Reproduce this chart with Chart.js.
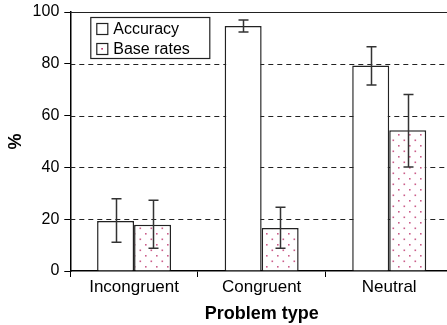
<!DOCTYPE html>
<html>
<head>
<meta charset="utf-8">
<script src="https://cdn.jsdelivr.net/npm/chart.js@4.4.0/dist/chart.umd.min.js"></script>
<style>
html, body { margin: 0; padding: 0; background: #fff; overflow: hidden; }
#wrap { position: relative; width: 454px; height: 325px; }
</style>
</head>
<body>
<div id="wrap"><canvas id="myChart"></canvas></div>
<script>
// data
var categories = ["Incongruent", "Congruent", "Neutral"];
var seriesNames = ["Accuracy", "Base rates"];
var accuracy = [19.3, 94.6, 79.3];
var baseRates = [17.9, 16.6, 54.3];
var accuracyHigh = [27.9, 96.9, 86.6];
var accuracyLow = [11.1, 92.3, 71.8];
var baseHigh = [27.3, 24.6, 68.1];
var baseLow = [8.8, 8.8, 40.2];
var yTicks = [0, 20, 40, 60, 80, 100];

Chart.defaults.font.family = '"Liberation Sans", Arial, sans-serif';
Chart.defaults.color = '#000';

// dotted fill for the base rates bars
function makeDots() {
	var c = document.createElement('canvas');
	c.width = 11; c.height = 11;
	var g = c.getContext('2d');
	g.fillStyle = '#fff';
	g.fillRect(0, 0, 11, 11);
	g.fillStyle = 'rgba(185,40,100,0.75)';
	g.fillRect(2, 2, 1.6, 1.6);
	g.fillRect(7.5, 7.5, 1.6, 1.6);
	return g.createPattern(c, 'repeat');
}
var dots = makeDots();

// dashed grid lines, solid top line
var gridLines = {
	id: 'gridLines',
	beforeDatasetsDraw: function(chart) {
		var ctx = chart.ctx, a = chart.chartArea, y = chart.scales.y;
		ctx.save();
		ctx.strokeStyle = '#222';
		ctx.lineWidth = 1.1;
		yTicks.forEach(function(v) {
			if (v == 0) return;
			var py = Math.round(y.getPixelForValue(v)) + 0.5;
			ctx.setLineDash(v == 100 ? [] : [5, 4]);
			ctx.beginPath();
			ctx.moveTo(a.left, py);
			ctx.lineTo(a.right, py);
			ctx.stroke();
		});
		ctx.restore();
	}
};

// error bars
var errorBars = {
	id: 'errorBars',
	afterDatasetsDraw: function(chart) {
		var ctx = chart.ctx, y = chart.scales.y;
		var hi = [accuracyHigh, baseHigh], lo = [accuracyLow, baseLow];
		ctx.save();
		ctx.strokeStyle = '#333';
		ctx.lineWidth = 1.5;
		for (var d = 0; d < 2; d++) {
			chart.getDatasetMeta(d).data.forEach(function(bar, i) {
				var x = Math.round(bar.x) + 0.5;
				var t = y.getPixelForValue(hi[d][i]);
				var b = y.getPixelForValue(lo[d][i]);
				ctx.beginPath();
				ctx.moveTo(x, t); ctx.lineTo(x, b);
				ctx.moveTo(x - 5, t); ctx.lineTo(x + 5, t);
				ctx.moveTo(x - 5, b); ctx.lineTo(x + 5, b);
				ctx.stroke();
			});
		}
		ctx.restore();
	}
};

// legend box inside the plot
var boxLegend = {
	id: 'boxLegend',
	afterDraw: function(chart) {
		var ctx = chart.ctx, a = chart.chartArea;
		var x = a.left + 20, top = a.top + 5;
		ctx.save();
		ctx.fillStyle = '#fff';
		ctx.fillRect(x, top, 119, 41);
		ctx.strokeStyle = '#222';
		ctx.lineWidth = 1.2;
		ctx.strokeRect(x + 0.5, top + 0.5, 119, 41);
		for (var i = 0; i < 2; i++) {
			var sy = top + 6 + i * 20;
			ctx.fillStyle = '#fff';
			ctx.fillRect(x + 6, sy, 12, 12);
			ctx.strokeRect(x + 6.5, sy + 0.5, 11, 11);
			if (i == 1) {
				ctx.fillStyle = 'rgb(185,40,100)';
				ctx.fillRect(x + 11, sy + 5, 1.6, 1.6);
			}
			ctx.fillStyle = '#000';
			ctx.font = '16px "Liberation Sans", Arial, sans-serif';
			ctx.textBaseline = 'middle';
			ctx.fillText(seriesNames[i], x + 23, sy + 6.5);
		}
		ctx.restore();
	}
};

var chart = new Chart(document.getElementById('myChart'), {
	type: 'bar',
	data: {
		labels: categories,
		datasets: [
			{ label: seriesNames[0], data: accuracy, backgroundColor: '#fff', borderColor: '#222', borderWidth: 1.5 },
			{ label: seriesNames[1], data: baseRates, backgroundColor: dots, borderColor: '#222', borderWidth: 1.5 }
		]
	},
	options: {
		responsive: true,
		maintainAspectRatio: false,
		animation: false,
		barPercentage: 1,
		categoryPercentage: 0.58,
		layout: { padding: { top: 0, left: 4, right: 1, bottom: 0 } },
		plugins: { legend: { display: false }, tooltip: { enabled: false } },
		scales: {
			x: {
				offset: true,
				grid: { drawOnChartArea: false, color: '#000', tickLength: 6, offset: true },
				border: { color: '#000', width: 1.5 },
				ticks: { font: { size: 17 }, padding: 0 },
				title: { display: true, text: 'Problem type', font: { size: 18, weight: 'bold' }, padding: { top: 6, bottom: 0 } }
			},
			y: {
				min: 0, max: 100,
				afterBuildTicks: function(s) { s.ticks = yTicks.map(function(v) { return { value: v }; }); },
				afterFit: function(s) { s.paddingTop = 12; },
				grid: { drawOnChartArea: false, color: '#000', tickLength: 6 },
				border: { color: '#000', width: 1.5 },
				ticks: { font: { size: 16 }, padding: 5 },
				title: { display: true, text: '%', font: { size: 18, weight: 'bold' }, padding: 1 }
			}
		}
	},
	plugins: [gridLines, errorBars, boxLegend]
});
</script>
</body>
</html>
